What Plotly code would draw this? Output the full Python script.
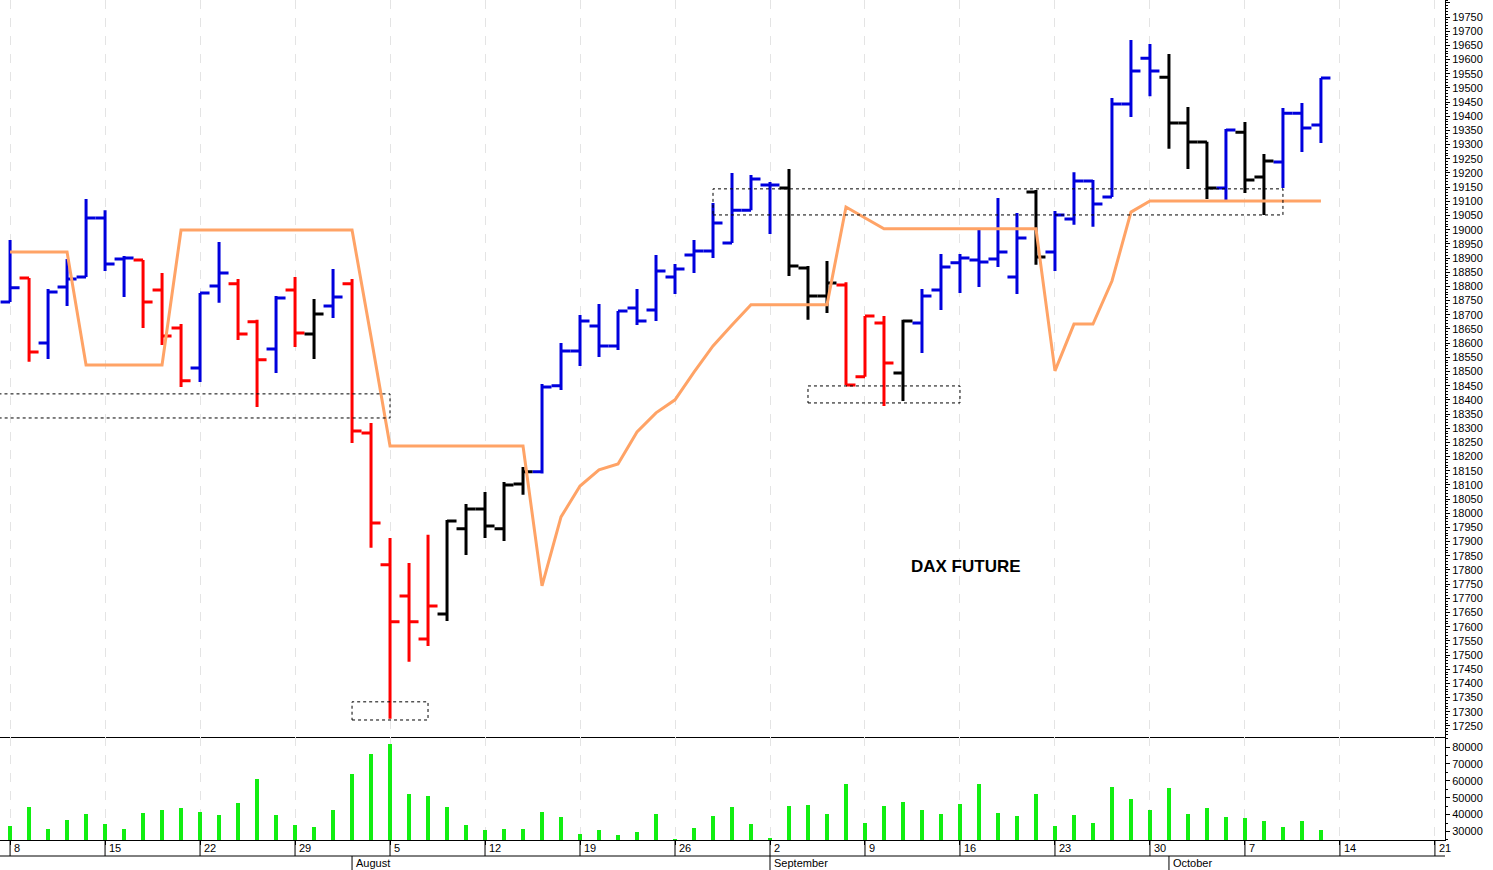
import plotly.graph_objects as go

# trading days from 8 July (index 0) to 11 October
opens = [18745, 18830, 18600, 18798, 18833, 19041, 18897, 18893, 18787, 18653,
         18512, 18801, 18809, 18675, 18579, 18787, 18632, 18731, 18809, 18283,
         17818, 17708, 17557, 17645, 17945, 18015, 17945, 18103, 18146, 18450,
         18572, 18660, 18590, 18724, 18717, 18833, 18911, 18925, 18953, 19069,
         19158, 19147, 18865, 18766, 18805, 18481, 18671, 18495, 18671, 18787,
         18883, 18893, 18897, 18833, 19133, 18921, 19038, 19172, 19115, 19443,
         19605, 19538, 19376, 19309, 19147, 19344, 19186, 19239, 19411, 19369]
highs = [18964, 18830, 18791, 18897, 19108, 19069, 18907, 18893, 18847, 18667,
         18777, 18957, 18826, 18682, 18766, 18833, 18756, 18861, 18826, 18318,
         17913, 17825, 17924, 17976, 18033, 18075, 18110, 18163, 18456, 18600,
         18699, 18738, 18713, 18791, 18911, 18879, 18964, 19094, 19200, 19193,
         19168, 19214, 18872, 18890, 18815, 18696, 18696, 18682, 18791, 18914,
         18914, 18999, 19112, 19059, 19140, 19066, 19203, 19175, 19464, 19669,
         19655, 19620, 19433, 19310, 19355, 19380, 19267, 19429, 19447, 19535]
lows = [18745, 18534, 18544, 18731, 18833, 18854, 18763, 18653, 18593, 18445,
        18463, 18742, 18611, 18375, 18495, 18586, 18544, 18689, 18248, 17878,
        17275, 17476, 17532, 17620, 17853, 17913, 17902, 18065, 18140, 18435,
        18519, 18551, 18576, 18664, 18678, 18773, 18847, 18900, 18953, 19069,
        18985, 18837, 18682, 18706, 18452, 18481, 18378, 18396, 18565, 18717,
        18777, 18798, 18868, 18773, 18876, 18854, 19017, 19010, 19115, 19397,
        19471, 19285, 19214, 19108, 19098, 19129, 19052, 19147, 19274, 19306]
closes = [18795, 18569, 18780, 18826, 19041, 18879, 18900, 18745, 18625, 18467,
          18777, 18847, 18632, 18541, 18759, 18636, 18703, 18763, 18290, 17966,
          17617, 17617, 17673, 17973, 18015, 17955, 18100, 18146, 18445, 18572,
          18678, 18590, 18713, 18678, 18854, 18861, 18925, 19024, 19069, 19179,
          19158, 18872, 18766, 18812, 18452, 18696, 18530, 18678, 18766, 18868,
          18900, 18886, 18921, 18971, 18904, 19052, 19172, 19091, 19443, 19560,
          19560, 19376, 19309, 19147, 19352, 19175, 19242, 19411, 19359, 19535]
# trend colour of each bar: b=blue, r=red, k=black
trend = list("brbbbbbrrrbbrrbrkbrrrrrkkkkkbbbbbbbbbbbbbkkkrrrkbbbbbbkbbbbbbkkkbkkbbb")
stop_line = [18921, 18921, 18921, 18921, 18523, 18523, 18523, 18523, 18523, 18999,
             18999, 18999, 18999, 18999, 18999, 18999, 18999, 18999, 18999, 18622,
             18237, 18237, 18237, 18237, 18237, 18237, 18237, 18237, 17744, 17987,
             18096, 18153, 18174, 18287, 18354, 18400, 18498, 18590, 18664, 18735,
             18735, 18735, 18735, 18735, 19080, 19041, 19003, 19003, 19003, 19003,
             19003, 19003, 19003, 19003, 19003, 18502, 18667, 18667, 18819, 19062,
             19101, 19101, 19101, 19101, 19101, 19101, 19101, 19101, 19101, 19101]
volume = [33230, 44650, 31630, 36780, 40340, 34420, 31630, 40930, 42700, 44070,
          41520, 39740, 46850, 61060, 39740, 33820, 32640, 42700, 64020, 75860,
          81780, 52180, 50990, 44480, 33820, 30860, 31460, 31630, 41520, 38560,
          28670, 30860, 27900, 29860, 40340, 25540, 32050, 39150, 44650, 34420,
          26130, 45250, 45840, 40340, 58100, 35010, 45250, 47440, 42700, 40340,
          46260, 58100, 40930, 39150, 52180, 33230, 39740, 35010, 56500, 49220,
          42700, 55730, 40340, 43890, 38560, 37970, 36190, 32640, 36190, 30860]
week_labels = ["8", "15", "22", "29", "5", "12", "19", "26", "2", "9", "16", "23", "30", "7", "14", "21"]
months = [("August", 18), ("September", 40), ("October", 61)]
# dashed boxes: (day from, day to, price low, price high)
boxes = [(-0.6, 20, 18336, 18421), (18, 22, 17271, 17335),
         (42, 50, 18389, 18449), (37, 67, 19052, 19144)]

days = list(range(len(opens)))
colors = {"b": "#0000dd", "r": "#ff0000", "k": "#000000"}

fig = go.Figure()
for key, col in colors.items():
    idx = [i for i in days if trend[i] == key]
    fig.add_trace(go.Ohlc(x=idx, open=[opens[i] for i in idx], high=[highs[i] for i in idx],
                          low=[lows[i] for i in idx], close=[closes[i] for i in idx],
                          increasing=dict(line=dict(color=col, width=3)),
                          decreasing=dict(line=dict(color=col, width=3)),
                          tickwidth=0.5, hoverinfo="skip", showlegend=False))
fig.add_trace(go.Scatter(x=days, y=stop_line, mode="lines", line=dict(color="#ffa366", width=3),
                         showlegend=False))
fig.add_trace(go.Bar(x=days, y=volume, width=0.17, marker=dict(color="#11ee11", line_width=0),
                     xaxis="x2", yaxis="y2", showlegend=False))

for x0, x1, y0, y1 in boxes:
    fig.add_shape(type="rect", x0=x0, x1=x1, y0=y0, y1=y1, xref="x", yref="y",
                  line=dict(color="black", width=1, dash="dot"))

H = 840.0
xr = [-0.53, 75.53]
for k, lab in enumerate(week_labels):
    fig.add_shape(type="line", xref="x2", yref="paper", x0=5 * k, x1=5 * k, y0=-16 / H, y1=0,
                  line=dict(color="black", width=1))
    fig.add_annotation(x=5 * k + 0.12, y=-8 / H, xref="x2", yref="paper", text=lab, showarrow=False,
                       xanchor="left", yanchor="middle", font=dict(size=11, color="black"))
for name, d in months:
    fig.add_shape(type="line", xref="x2", yref="paper", x0=d, x1=d, y0=-30 / H, y1=-16 / H,
                  line=dict(color="black", width=1))
    fig.add_annotation(x=d + 0.1, y=-23 / H, xref="x2", yref="paper", text=name, showarrow=False,
                       xanchor="left", yanchor="middle", font=dict(size=11, color="black"))
fig.add_shape(type="line", xref="paper", yref="paper", x0=0, x1=1, y0=-16 / H, y1=-16 / H,
              line=dict(color="black", width=1))
fig.add_annotation(x=50.3, y=17814, xref="x", yref="y", text="<b>DAX FUTURE</b>", showarrow=False,
                   font=dict(size=17, color="black", family="Arial"))

vol_top = 103 / H
grid = dict(showgrid=True, gridcolor="#e4e4e4", griddash="dash", gridwidth=1, tick0=0, dtick=5)
fig.update_layout(
    width=1493, height=870, margin=dict(l=0, r=48, t=0, b=30),
    paper_bgcolor="white", plot_bgcolor="white", bargap=0,
    font=dict(family="Arial", size=11, color="black"),
    xaxis=dict(domain=[0, 1], range=xr, anchor="y", showticklabels=False, ticks="",
               showline=True, linecolor="black", linewidth=1, zeroline=False,
               rangeslider=dict(visible=False), **grid),
    xaxis2=dict(domain=[0, 1], range=xr, anchor="y2", showticklabels=False, ticks="outside",
                ticklen=4, tickcolor="black", showline=True, linecolor="black", linewidth=1,
                zeroline=False, matches="x", **grid),
    yaxis=dict(domain=[vol_top, 1], range=[17211, 19810], side="right", dtick=50, tick0=0,
               tickformat="d", showgrid=False, zeroline=False, showline=True, linecolor="black",
               ticks="outside", ticklen=4, tickcolor="black",
               minor=dict(dtick=10, ticks="outside", ticklen=2, tickcolor="black")),
    yaxis2=dict(domain=[0, vol_top], range=[24950, 85920], side="right", dtick=10000, tick0=0,
                tickformat="d", showgrid=False, zeroline=False, showline=True, linecolor="black",
                ticks="outside", ticklen=4, tickcolor="black", anchor="x2",
                minor=dict(dtick=5000, ticks="outside", ticklen=2, tickcolor="black")),
)
fig.write_html("out.html", config={"displayModeBar": False},
               post_script="document.body.style.margin='0';")
